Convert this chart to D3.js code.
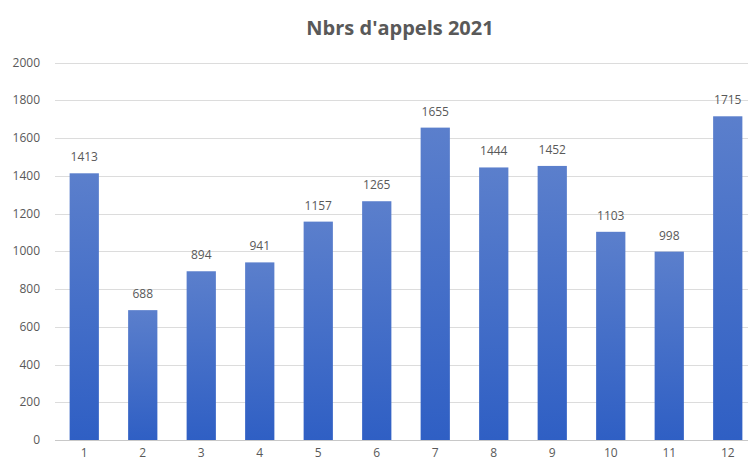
<!DOCTYPE html>
<html>
<head>
<meta charset="utf-8">
<script src="https://cdn.jsdelivr.net/npm/d3@7"></script>
<style>
  html, body { margin: 0; padding: 0; background: #fff; }
  svg text { font-family: "Open Sans", "Liberation Sans", sans-serif; fill: #595959; }
</style>
</head>
<body>
<div id="chart"></div>
<script>
// ── Data ──
const months = ["1", "2", "3", "4", "5", "6", "7", "8", "9", "10", "11", "12"];
const calls = [1413, 688, 894, 941, 1157, 1265, 1655, 1444, 1452, 1103, 998, 1715];
const yTicks = [0, 200, 400, 600, 800, 1000, 1200, 1400, 1600, 1800, 2000];
const title = "Nbrs d'appels 2021";

const WIDTH = 748;
const HEIGHT = 463;

const svg = d3.select("#chart")
    .append("svg")
    .attr("width", WIDTH)
    .attr("height", HEIGHT);

// bar gradient: lighter at top, deeper blue at bottom
const grad = svg.append("defs").append("linearGradient")
    .attr("id", "barGrad")
    .attr("x1", 0).attr("y1", 0).attr("x2", 0).attr("y2", 1);
grad.append("stop").attr("offset", "0%").attr("stop-color", "#5b7fcc");
grad.append("stop").attr("offset", "100%").attr("stop-color", "#2f5fc4");

// ── Scales ──
const x = d3.scaleBand()
    .domain(months)
    .range([55, 757])
    .paddingInner(0.5)
    .paddingOuter(0.25);

const y = d3.scaleLinear()
    .domain([0, 2000])
    .range([440, 62.5]);

// gridlines
svg.append("g")
    .selectAll("line")
    .data(yTicks)
    .enter()
    .append("line")
    .attr("x1", 55)
    .attr("x2", WIDTH)
    .attr("y1", d => Math.round(y(d)) + 0.5)
    .attr("y2", d => Math.round(y(d)) + 0.5)
    .attr("stroke", d => d === 0 ? "#c8c8c8" : "#dcdcdc")
    .attr("stroke-width", 1);

// y tick labels
svg.append("g")
    .selectAll("text")
    .data(yTicks)
    .enter()
    .append("text")
    .attr("x", 40)
    .attr("y", d => y(d))
    .attr("dy", "0.35em")
    .attr("text-anchor", "end")
    .attr("font-size", 12)
    .text(d => d);

// bars
svg.append("g")
    .selectAll("rect")
    .data(calls)
    .enter()
    .append("rect")
    .attr("x", (d, i) => x(months[i]))
    .attr("y", d => y(d))
    .attr("width", x.bandwidth())
    .attr("height", d => y(0) - y(d))
    .attr("fill", "url(#barGrad)");

// value labels
svg.append("g")
    .selectAll("text")
    .data(calls)
    .enter()
    .append("text")
    .attr("x", (d, i) => x(months[i]) + x.bandwidth() / 2)
    .attr("y", d => y(d) - 12)
    .attr("text-anchor", "middle")
    .attr("font-size", 12)
    .attr("fill", "#404040")
    .text(d => d);

// x labels
svg.append("g")
    .selectAll("text")
    .data(months)
    .enter()
    .append("text")
    .attr("x", d => x(d) + x.bandwidth() / 2)
    .attr("y", 457)
    .attr("text-anchor", "middle")
    .attr("font-size", 12)
    .text(d => d);

// title
svg.append("text")
    .attr("x", 400)
    .attr("y", 35)
    .attr("text-anchor", "middle")
    .attr("font-size", 20)
    .attr("font-weight", "bold")
    .text(title);
</script>
</body>
</html>
